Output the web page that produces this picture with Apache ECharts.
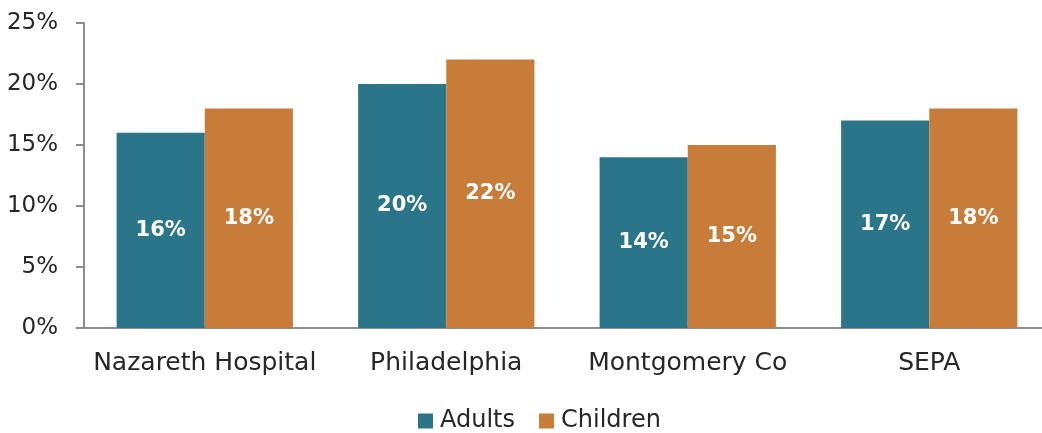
<!DOCTYPE html>
<html>
<head>
<meta charset="utf-8">
<script src="https://cdn.jsdelivr.net/npm/echarts@6/dist/echarts.min.js"></script>
<style>
	html,body{margin:0;padding:0;background:#fff;overflow:hidden;}
	/* the x axis in the reference runs a little past the right edge */
	#chart{width:1050px;height:433px;}
</style>
</head>
<body>
<div id="chart"></div>
<script>
// data
const categories = ['Nazareth Hospital', 'Philadelphia', 'Montgomery Co', 'SEPA']
const adults = [16, 20, 14, 17]
const children = [18, 22, 15, 18]
const yTicks = [0, 5, 10, 15, 20, 25]

const font = '"DejaVu Sans", sans-serif'
let chart = echarts.init(document.getElementById('chart'))

let labelStyle = {
	show: true,
	position: 'inside',
	color: '#fff',
	fontSize: 21,
	fontWeight: 'bold',
	fontFamily: font,
	formatter: p => p.value + '%'
}

let option = {
	animation: false,
	grid: {left: 84, top: 23, right: 0, bottom: 105, containLabel: false},
	legend: {
		top: 404,
		left: 413,
		icon: 'rect',
		itemWidth: 15,
		itemHeight: 15,
		itemGap: 24,
		itemStyle: {borderWidth: 0},
		textStyle: {fontSize: 24, color: '#262626', fontFamily: font, padding: [0, 0, 0, 2]},
		data: ['Adults', 'Children']
	},
	xAxis: {
		type: 'category',
		data: categories,
		axisLine: {lineStyle: {color: '#8c8c8c', width: 2}},
		axisTick: {show: false},
		axisLabel: {interval: 0, fontSize: 25, color: '#262626', fontFamily: font, margin: 23}
	},
	yAxis: {
		type: 'value',
		min: yTicks[0],
		max: yTicks[yTicks.length - 1],
		interval: 5,
		splitLine: {show: false},
		axisLine: {show: true, lineStyle: {color: '#8c8c8c', width: 2}},
		axisTick: {show: true, length: 8, lineStyle: {color: '#8c8c8c', width: 2}},
		axisLabel: {fontSize: 23, color: '#262626', fontFamily: font, margin: 26, formatter: '{value}%'}
	},
	series: [
		{
			name: 'Adults',
			type: 'bar',
			data: adults,
			barWidth: '36.5%',
			barGap: '0%',
			itemStyle: {color: '#2b7588'},
			label: labelStyle
		},
		{
			name: 'Children',
			type: 'bar',
			data: children,
			barWidth: '36.5%',
			itemStyle: {color: '#c77c3a'},
			label: labelStyle
		}
	]
}
chart.setOption(option)
</script>
</body>
</html>
